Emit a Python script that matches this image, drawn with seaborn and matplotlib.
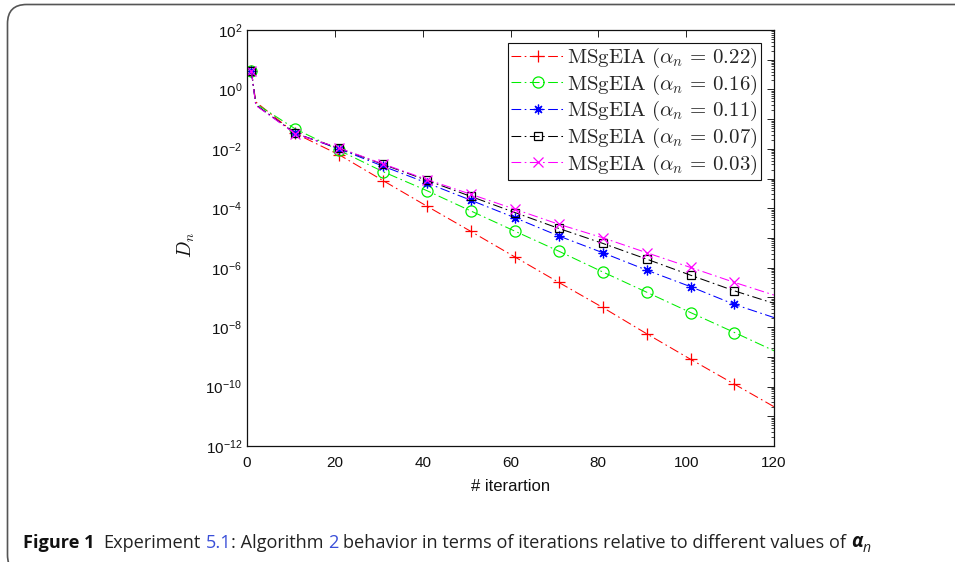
import numpy as np
import pandas as pd
import seaborn as sns
import matplotlib
matplotlib.use("Agg")
import matplotlib.pyplot as plt
from matplotlib.font_manager import FontProperties
from matplotlib.patches import FancyBboxPatch
from matplotlib.ticker import FixedLocator, FuncFormatter, NullFormatter

# ---- data: D_n at the recorded iterations ----
iterations = [1, 2, 11, 21, 31, 41, 51, 61, 71, 81, 91, 101, 111, 120]

d_022 = [4.2, 0.38, 3.3e-2, 6.3e-3, 8.5e-4, 1.17e-4, 1.66e-5, 2.3e-6, 3.2e-7,
         4.6e-8, 6.0e-9, 8.3e-10, 1.2e-10, 2.1e-11]
d_016 = [4.2, 0.33, 4.7e-2, 8.9e-3, 1.7e-3, 3.9e-4, 8.1e-5, 1.7e-5, 3.6e-6,
         7.2e-7, 1.5e-7, 3.1e-8, 6.6e-9, 1.6e-9]
d_011 = [4.2, 0.30, 3.3e-2, 1.0e-2, 2.6e-3, 7.1e-4, 1.86e-4, 4.8e-5, 1.17e-5,
         3.2e-6, 8.3e-7, 2.3e-7, 5.8e-8, 2.1e-8]
d_007 = [4.2, 0.30, 3.3e-2, 1.05e-2, 3.0e-3, 8.7e-4, 2.5e-4, 7.2e-5, 2.1e-5,
         6.6e-6, 1.95e-6, 5.6e-7, 1.66e-7, 6.3e-8]
d_003 = [4.2, 0.29, 3.2e-2, 1.07e-2, 3.1e-3, 9.3e-4, 2.95e-4, 9.3e-5, 2.9e-5,
         1.02e-5, 3.2e-6, 1.02e-6, 3.2e-7, 1.2e-7]

alphas = ["0.22", "0.16", "0.11", "0.07", "0.03"]
series = [d_022, d_016, d_011, d_007, d_003]
colors = ["#ff0000", "#00ee00", "#0000ff", "#000000", "#ff00ff"]
markers = ["+", "o", (8, 2, 0), "s", "x"]
marker_sizes = [8, 8, 7, 5.5, 6.5]

x_ticks = [0, 20, 40, 60, 80, 100, 120]

# ---- style ----
sns.set_theme(style="white")
plt.rcParams["font.family"] = ["Liberation Sans", "DejaVu Sans"]
plt.rcParams["lines.scale_dashes"] = False

W, H = 955, 562
fig = plt.figure(figsize=(W / 100, H / 100), dpi=100)
ax = fig.add_axes([247 / W, 1 - 446 / H, 527 / W, 416 / H])

df = pd.DataFrame({"iteration": iterations})
mark_idx = [i for i, it in enumerate(iterations) if (it - 1) % 10 == 0]

for a, vals, c, m, ms in zip(alphas, series, colors, markers, marker_sizes):
    df[a] = vals
    sns.lineplot(
        data=df, x="iteration", y=a, ax=ax,
        color=c, linewidth=0.75, linestyle=(0, (7, 2.5, 1.2, 2.5)),
        marker=m, markersize=ms, markevery=mark_idx,
        markerfacecolor="none", markeredgecolor=c, markeredgewidth=0.9,
        label=rf"$\mathrm{{MSgEIA}}\ (\alpha_n\, =\, {a})$",
    )

ax.set_yscale("log")
ax.set_xlim(0, 120)
ax.set_ylim(1e-12, 1e2)

ax.xaxis.set_major_locator(FixedLocator(x_ticks))
ax.yaxis.set_major_locator(FixedLocator([10.0 ** k for k in range(-12, 3)]))
ax.yaxis.set_minor_locator(FixedLocator(
    [m * 10.0 ** k for k in range(-12, 2) for m in range(2, 10)]))


def decade_label(v, pos):
    k = int(round(np.log10(v)))
    if k % 2:
        return ""
    return r"$\mathregular{10^{%d}}$" % k


ax.yaxis.set_major_formatter(FuncFormatter(decade_label))
ax.yaxis.set_minor_formatter(NullFormatter())

ax.tick_params(which="both", direction="in", top=True, right=True,
               colors="#222222", labelcolor="#111111", labelsize=11)
ax.tick_params(which="major", length=5, width=0.7)
ax.tick_params(which="minor", length=2.5, width=0.6)
ax.tick_params(axis="x", pad=7)
for s in ax.spines.values():
    s.set_color("#111111")
    s.set_linewidth(0.9)

ax.set_xlabel("# iterartion", fontsize=12, color="#111111", labelpad=7)
ax.set_ylabel(r"$D_n$", fontsize=14, color="#111111", math_fontfamily="cm")
ax.yaxis.set_label_coords(-0.095, 0.483)

leg = ax.legend(
    loc="upper right", bbox_to_anchor=(1, 1), borderaxespad=0.62,
    prop=FontProperties(size=15, math_fontfamily="cm"),
    fancybox=False, frameon=True, edgecolor="#111111", framealpha=1,
    handlelength=2.6, handletextpad=0.12, labelspacing=0.12,
    borderpad=0.15,
)
leg.get_frame().set_linewidth(0.8)

# ---- caption frame ----
frame = FancyBboxPatch(
    (7.5 / W, -12 / H), 980 / W, (H - 4.5 + 12) / H,
    boxstyle="round,pad=0,rounding_size=0.02",
    transform=fig.transFigure, fill=False, edgecolor="#555555",
    linewidth=1.2, clip_on=False, mutation_aspect=W / H,
)
fig.add_artist(frame)

# ---- caption text, laid out piece by piece ----
cap_size = 13.1
cap_font = ["Open Sans", "DejaVu Sans"]
space = 3.4  # word gap in points
head = fig.text(23 / W, 1 - 552 / H, "Figure 1", fontsize=cap_size,
                fontweight="bold", family=cap_font, color="#111111",
                va="bottom")
pieces = [
    ("Experiment", "#222222", 6.5),
    ("5.1", "#3a4fd8", space),
    (": Algorithm", "#222222", 0),
    ("2", "#3a4fd8", space),
    ("behavior in terms of iterations relative to different values of",
     "#222222", space),
]
chain = [head]
for txt, col, gap in pieces:
    nxt = fig.add_artist(plt.Annotation(
        txt, xy=(1, 0), xycoords=chain[-1], xytext=(gap, 0),
        textcoords="offset points", fontsize=cap_size, family=cap_font,
        color=col, va="bottom", ha="left"))
    chain.append(nxt)

alpha_txt = fig.add_artist(plt.Annotation(
    "α", xy=(1, 0), xycoords=chain[-1], xytext=(space, 0),
    textcoords="offset points", fontsize=cap_size + 0.5, family=cap_font,
    fontweight="bold", fontstyle="italic", color="#111111",
    va="bottom", ha="left"))
fig.add_artist(plt.Annotation(
    "n", xy=(1, 0), xycoords=alpha_txt, xytext=(0, -3),
    textcoords="offset points", fontsize=cap_size - 3, family=cap_font,
    fontstyle="italic", color="#222222", va="bottom", ha="left"))

fig.savefig("out.png", dpi=100)
